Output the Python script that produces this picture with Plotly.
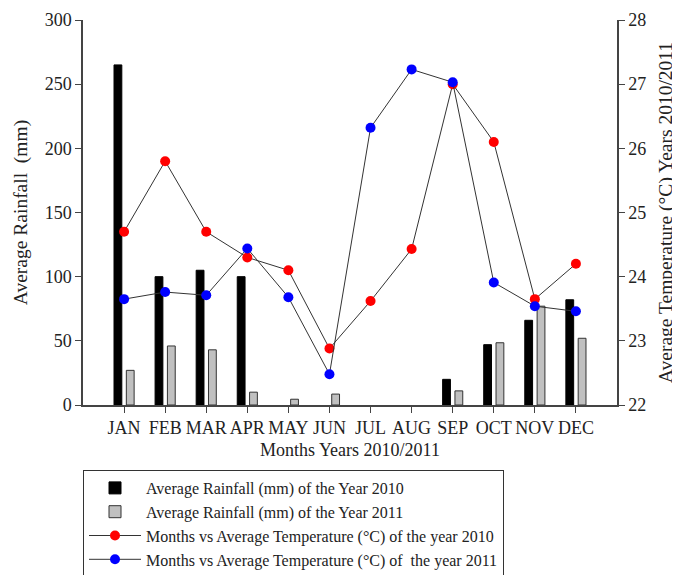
import plotly.graph_objects as go

months = ["JAN", "FEB", "MAR", "APR", "MAY", "JUN", "JUL", "AUG", "SEP", "OCT", "NOV", "DEC"]
rain_2010 = [265, 100, 105, 100, 0, 0, 0, 0, 20, 47, 66, 82]
rain_2011 = [27, 46, 43, 10, 4.5, 8.5, 0, 0, 11, 48.5, 77, 52]
temp_2010 = [24.70, 25.80, 24.70, 24.30, 24.10, 22.88, 23.62, 24.43, 27.00, 26.10, 23.65, 24.20]
temp_2011 = [23.65, 23.76, 23.71, 24.44, 23.68, 22.48, 26.32, 27.23, 27.03, 23.91, 23.54, 23.46]

FONT = "Liberation Serif, Times New Roman, serif"
AX = "#444444"
W, H = 680, 575
ML, MR, MT, MB = 75, 71, 12, 178
PLOT_H = H - MT - MB


def nz(vals):
    # zero rainfall draws no bar at all in the reference
    return [v if v else None for v in vals]


fig = go.Figure()
fig.add_trace(go.Bar(
    x=months, y=nz(rain_2010), name="Average Rainfall (mm) of the Year 2010",
    marker=dict(color="black", line=dict(color="black", width=1)),
    width=0.19, offset=-0.245, yaxis="y",
))
fig.add_trace(go.Bar(
    x=months, y=nz(rain_2011), name="Average Rainfall (mm) of the Year 2011",
    marker=dict(color="#c0c0c0", line=dict(color="#333333", width=1)),
    width=0.19, offset=0.055, yaxis="y",
))
fig.add_trace(go.Scatter(
    x=months, y=temp_2010, name="Months vs Average Temperature (°C) of the year 2010",
    mode="lines+markers", line=dict(color="#333333", width=1),
    marker=dict(color="#ff0000", size=10), yaxis="y2",
))
fig.add_trace(go.Scatter(
    x=months, y=temp_2011, name="Months vs Average Temperature (°C) of  the year 2011",
    mode="lines+markers", line=dict(color="#333333", width=1),
    marker=dict(color="#0000ff", size=10), yaxis="y2",
))

fig.update_layout(
    width=W, height=H,
    margin=dict(l=ML, r=MR, t=MT, b=MB, autoexpand=False),
    paper_bgcolor="white", plot_bgcolor="white",
    font=dict(family=FONT, size=18, color="#222222"),
    showlegend=True,
    legend=dict(
        x=0, y=-(462 - (H - MB)) / PLOT_H, xanchor="left", yanchor="top",
        bordercolor="#333333", borderwidth=1,
        font=dict(family=FONT, size=16, color="#222222"),
        tracegroupgap=0, itemwidth=52,
    ),
    xaxis=dict(
        type="category", range=[-1, 12],
        showline=True, linecolor=AX, linewidth=1.5,
        ticks="outside", ticklen=6, tickcolor=AX,
        tickfont=dict(size=18),
        showgrid=False, zeroline=False,
        title=dict(text="Months Years 2010/2011", font=dict(size=18), standoff=6),
    ),
    yaxis=dict(
        range=[0, 300], tickvals=[0, 50, 100, 150, 200, 250, 300],
        showline=True, linecolor=AX, linewidth=1.5,
        ticks="outside", ticklen=6, tickcolor=AX,
        tickfont=dict(size=18),
        showgrid=False, zeroline=False,
        title=dict(text="Average Rainfall  (mm)", font=dict(size=19.5), standoff=12),
    ),
    yaxis2=dict(
        range=[22, 28], tickvals=[22, 23, 24, 25, 26, 27, 28],
        overlaying="y", side="right",
        showline=True, linecolor=AX, linewidth=1.5,
        ticks="outside", ticklen=6, tickcolor=AX,
        tickfont=dict(size=18),
        showgrid=False, zeroline=False,
        title=dict(text="Average Temperature (°C) Years 2010/2011", font=dict(size=19.5), standoff=13),
    ),
)

fig.write_html("out.html")
